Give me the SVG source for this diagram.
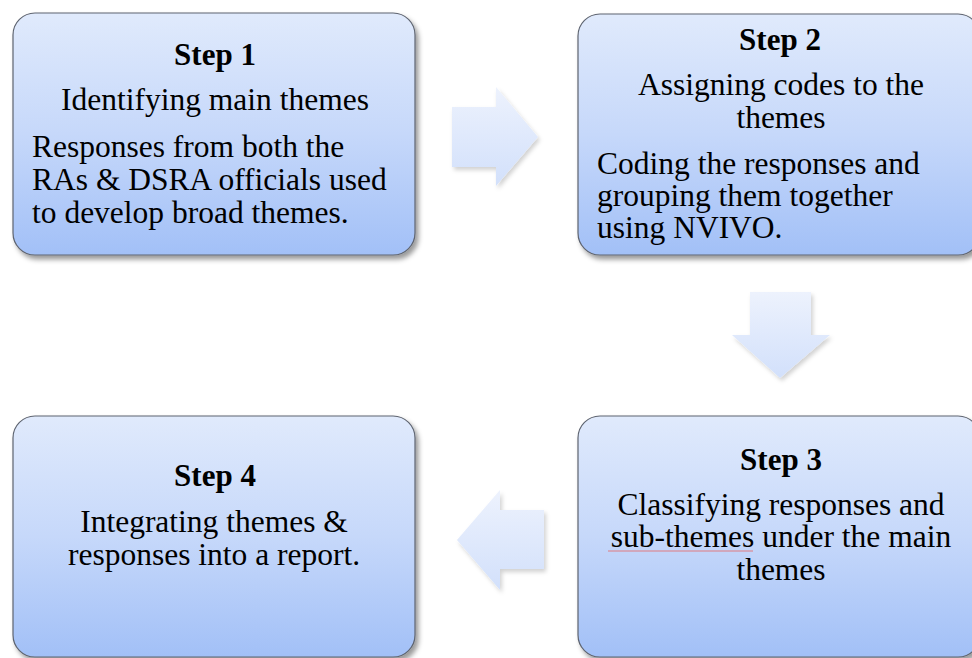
<svg xmlns="http://www.w3.org/2000/svg" width="972" height="658" viewBox="0 0 972 658">
  <defs>
    <linearGradient id="boxFill" x1="0" y1="0" x2="0" y2="1">
      <stop offset="0" stop-color="#e0eafc"/>
      <stop offset="0.5" stop-color="#c6d8fa"/>
      <stop offset="1" stop-color="#a2c0f7"/>
    </linearGradient>
    <linearGradient id="arrowFill" x1="0" y1="0" x2="0" y2="1">
      <stop offset="0" stop-color="#edf2fd"/>
      <stop offset="1" stop-color="#d2e0fb"/>
    </linearGradient>
    <filter id="boxShadow" x="-10%" y="-10%" width="120%" height="125%">
      <feDropShadow dx="3" dy="4" stdDeviation="2.5" flood-color="#000" flood-opacity="0.4"/>
    </filter>
    <filter id="arrowShadow" x="-20%" y="-20%" width="140%" height="140%">
      <feDropShadow dx="2" dy="3" stdDeviation="2" flood-color="#000" flood-opacity="0.18"/>
    </filter>
  </defs>
  <style>
    .box { fill: url(#boxFill); stroke: #5e6470; stroke-width: 1.2; filter: url(#boxShadow); }
    .arrow { fill: url(#arrowFill); filter: url(#arrowShadow); }
    .title { font-weight: bold; text-anchor: middle; }
    .mid { text-anchor: middle; }
    .squiggle { fill: none; stroke: #e07a80; stroke-width: 1; }
  </style>

  <rect width="972" height="658" fill="#fff"/>

  <!-- connectors: block arrows between the steps -->
  <g id="connectors">
    <polygon class="arrow" points="452,107 496,107 496,87 538,137 496,186 496,167 452,167"/>
    <polygon class="arrow" points="750,292 811,292 811,335 830,335 780,378 732,335 750,335"/>
    <polygon class="arrow" points="544,510 500,510 500,490 457,540 500,590 500,569 544,569"/>
  </g>

  <g font-family="'Liberation Serif', 'Times New Roman', 'DejaVu Serif', serif" font-size="31.5" fill="#000">
    <g id="step1">
      <rect class="box" x="13" y="13" width="402" height="242" rx="22" ry="22"/>
      <text class="title" x="215" y="65" font-size="31">Step 1</text>
      <text class="mid" x="215" y="110">Identifying main themes</text>
      <text x="32" y="157">Responses from both the</text>
      <text x="32" y="190">RAs &amp; DSRA officials used</text>
      <text x="32" y="223">to develop broad themes.</text>
    </g>

    <g id="step2">
      <rect class="box" x="578" y="14" width="402" height="241" rx="22" ry="22"/>
      <text class="title" x="780" y="50" font-size="31">Step 2</text>
      <text class="mid" x="781" y="95">Assigning codes to the</text>
      <text class="mid" x="781" y="128">themes</text>
      <text x="597" y="174">Coding the responses and</text>
      <text x="597" y="206">grouping them together</text>
      <text x="597" y="238">using NVIVO.</text>
    </g>

    <g id="step3">
      <rect class="box" x="578" y="416" width="402" height="241" rx="22" ry="22"/>
      <text class="title" x="781" y="470" font-size="31">Step 3</text>
      <text class="mid" x="781" y="515">Classifying responses and</text>
      <text class="mid" x="781" y="547">sub-themes under the main</text>
      <path class="squiggle" d="M608,551 L753,551"/>
      <text class="mid" x="781" y="580">themes</text>
    </g>

    <g id="step4">
      <rect class="box" x="13" y="416" width="402" height="241" rx="22" ry="22"/>
      <text class="title" x="215" y="486" font-size="31">Step 4</text>
      <text class="mid" x="214" y="532">Integrating themes &amp;</text>
      <text class="mid" x="214" y="565">responses into a report.</text>
    </g>
  </g>
</svg>
